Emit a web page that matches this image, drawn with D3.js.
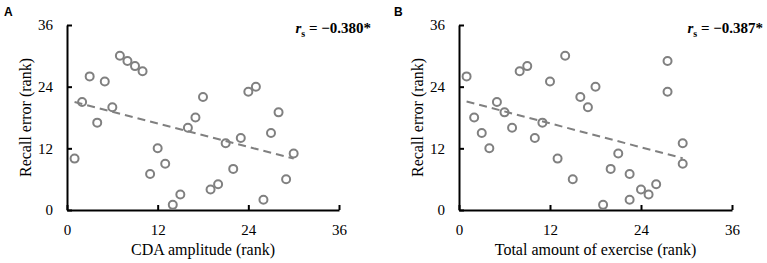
<!DOCTYPE html>
<html lang="en">
<head>
<meta charset="utf-8" />
<title>Recall error vs rank</title>
<style>
    body { margin: 0; background: #fff; }
    .axis path, .axis line { stroke: #000; stroke-width: 2; fill: none; }
    .axis text { font: 15px "Liberation Serif", "Times New Roman", serif; fill: #000; }
    .title { font: 16px "Liberation Serif", "Times New Roman", serif; fill: #000; }
    .stat { font: bold 15px "Liberation Serif", "Times New Roman", serif; fill: #000; }
    .panel { font: bold 12px "Liberation Sans", Arial, sans-serif; fill: #000; }
</style>
</head>
<body>
<div id="graph"></div>
<script src="https://cdn.jsdelivr.net/npm/d3@7"></script>
<script>
    // panel A: CDA amplitude rank vs recall error rank
    var cdaRank = [1, 2, 3, 4, 5, 6, 7, 8, 9, 10, 11, 12, 13, 14, 15,
                   16, 17, 18, 19, 20, 21, 22, 23, 24, 25, 26, 27, 28, 29, 30];
    var cdaRecall = [10, 21, 26, 17, 25, 20, 30, 29, 28, 27, 7, 12, 9, 1, 3,
                     16, 18, 22, 4, 5, 13, 8, 14, 23, 24, 2, 15, 19, 6, 11];

    // panel B: exercise rank (with ties) vs recall error rank
    var exRank = [1, 2, 3, 4, 5, 6, 7, 8, 9, 10, 11, 12, 13, 14, 15,
                  16, 17, 18, 19, 20, 21, 22.5, 22.5, 24, 25, 26, 27.5, 27.5, 29.5, 29.5];
    var exRecall = [26, 18, 15, 12, 21, 19, 16, 27, 28, 14, 17, 25, 10, 30, 6,
                    22, 20, 24, 1, 8, 11, 7, 2, 4, 3, 5, 29, 23, 13, 9];

    var ticks = [0, 12, 24, 36];

    var W = 767, H = 263;
    var svg = d3.select("#graph").append("svg")
        .attr("width", W)
        .attr("height", H);

    function fit(xs, ys) {
        var mx = d3.mean(xs), my = d3.mean(ys);
        var sxy = 0, sxx = 0;
        for (var i = 0; i < xs.length; i++) {
            sxy += (xs[i] - mx) * (ys[i] - my);
            sxx += (xs[i] - mx) * (xs[i] - mx);
        }
        var b = sxy / sxx;
        return function (x) { return my + b * (x - mx); };
    }

    function panel(opt) {
        var x = d3.scaleLinear().domain([0, 36]).range([opt.x0, opt.x1]);
        var y = d3.scaleLinear().domain([0, 36]).range([210, 25]);

        svg.append("text").attr("class", "panel")
            .attr("x", opt.labelX).attr("y", 16).text(opt.label);

        svg.append("g")
            .attr("class", "axis")
            .attr("transform", "translate(" + opt.x0 + ",0)")
            .call(d3.axisLeft(y).tickValues(ticks).tickSizeInner(-5).tickSizeOuter(0).tickPadding(14));

        svg.append("g")
            .attr("class", "axis")
            .attr("transform", "translate(0,210)")
            .call(d3.axisBottom(x).tickValues(ticks).tickSizeInner(-5).tickSizeOuter(0).tickPadding(14));

        svg.append("text").attr("class", "title")
            .attr("transform", "translate(" + (opt.x0 - 36) + "," + ((25 + 210) / 2) + ") rotate(-90)")
            .attr("text-anchor", "middle")
            .text("Recall error (rank)");

        svg.append("text").attr("class", "title")
            .attr("x", (opt.x0 + opt.x1) / 2).attr("y", 255)
            .attr("text-anchor", "middle")
            .text(opt.xTitle);

        var stat = svg.append("text").attr("class", "stat")
            .attr("x", opt.statX).attr("y", 33)
            .attr("text-anchor", "end");
        stat.append("tspan").style("font-style", "italic").text("r");
        stat.append("tspan").attr("dy", 4).style("font-size", "10px").text("s");
        stat.append("tspan").attr("dy", -4).text(" = \u2212" + opt.rs + "*");

        var f = fit(opt.xs, opt.ys);
        var xmin = d3.min(opt.xs), xmax = d3.max(opt.xs);
        svg.append("line")
            .attr("x1", x(xmin)).attr("y1", y(f(xmin)))
            .attr("x2", x(xmax)).attr("y2", y(f(xmax)))
            .attr("stroke", "#808080")
            .attr("stroke-width", 2)
            .attr("stroke-dasharray", "8,5");

        svg.append("g").selectAll("circle")
            .data(opt.xs.map(function (d, i) { return [d, opt.ys[i]]; }))
            .enter().append("circle")
            .attr("cx", function (d) { return x(d[0]); })
            .attr("cy", function (d) { return y(d[1]); })
            .attr("r", 4)
            .attr("fill", "none")
            .attr("stroke", "#808080")
            .attr("stroke-width", 2);
    }

    panel({ label: "A", labelX: 4, x0: 67, x1: 339, xs: cdaRank, ys: cdaRecall,
            xTitle: "CDA amplitude (rank)", rs: "0.380", statX: 371 });
    panel({ label: "B", labelX: 394, x0: 459, x1: 732, xs: exRank, ys: exRecall,
            xTitle: "Total amount of exercise (rank)", rs: "0.387", statX: 763 });
</script>
</body>
</html>
